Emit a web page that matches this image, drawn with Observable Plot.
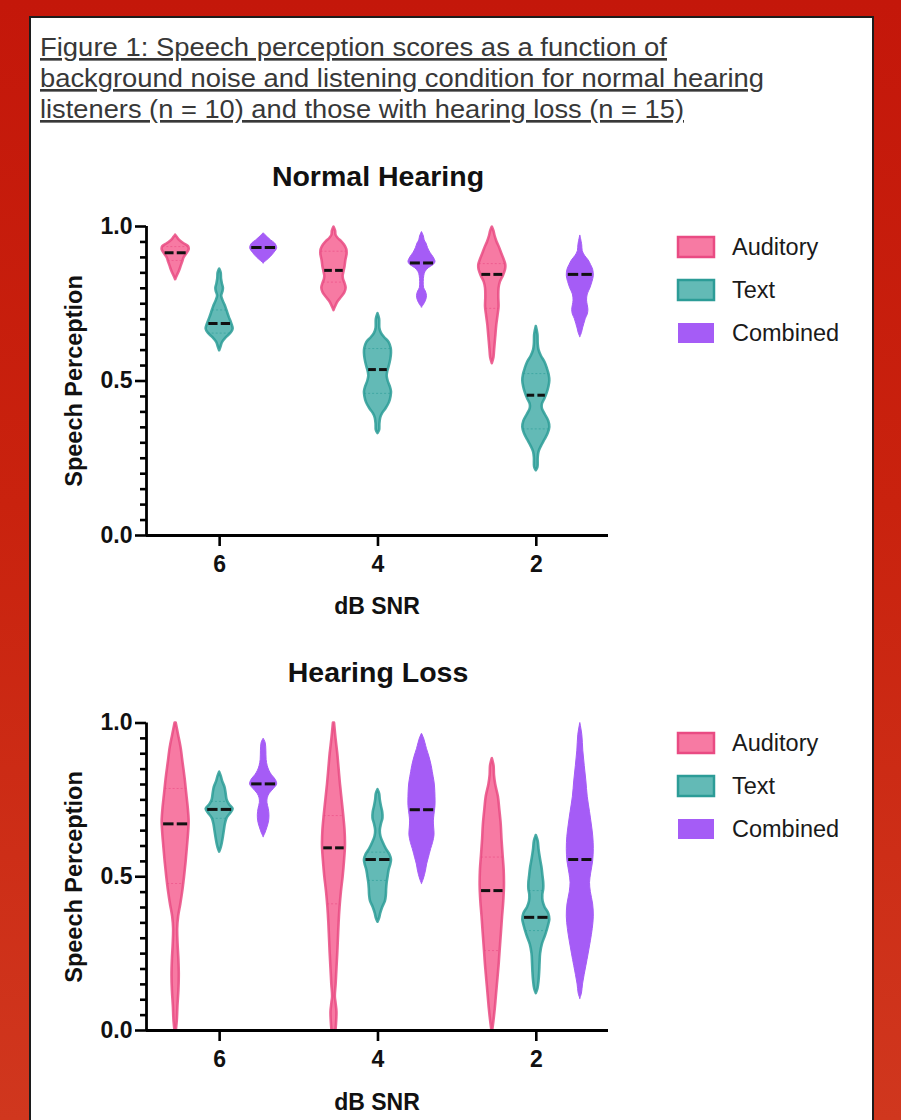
<!DOCTYPE html>
<html>
<head>
<meta charset="utf-8">
<script src="https://cdn.jsdelivr.net/npm/d3@7"></script>
<script src="https://cdn.jsdelivr.net/npm/@observablehq/plot@0.6"></script>
<style>
  html, body { margin: 0; padding: 0; }
  body {
    width: 901px; height: 1120px; overflow: hidden; position: relative;
    background: linear-gradient(180deg, #c4170a 0%, #c9220e 45%, #d0371e 100%);
    font-family: "Liberation Sans", Arial, sans-serif;
  }
  #panel {
    position: absolute; left: 29px; top: 16px; width: 845px; height: 1120px;
    background: #fff; border: 2px solid #1c1c1c; border-bottom: none; box-sizing: border-box;
  }
  .plot { position: absolute; left: 31px; }
  .plot svg text { font-size: 23px !important; font-weight: bold !important; font-family: "Liberation Sans", Arial, sans-serif !important; fill: #111; }
  #overlay { position: absolute; left: 0; top: 0; pointer-events: none; }
</style>
</head>
<body>
<div id="panel"></div>
<div id="top" class="plot" style="top:140px"></div>
<div id="bottom" class="plot" style="top:640px"></div>
<svg id="overlay" width="901" height="1120"></svg>
<script>
// ---------------- DATA ----------------
const titleLines = [
  "Figure 1: Speech perception scores as a function of",
  "background noise and listening condition for normal hearing",
  "listeners (n = 10) and those with hearing loss (n = 15)"
];
const panelTitles = ["Normal Hearing", "Hearing Loss"];
const yLabel = "Speech Perception";
const xLabel = "dB SNR";
const snr = ["6", "4", "2"];
const conditions = ["Auditory", "Text", "Combined"];
const yTicks = [0, 0.5, 1];

// violin profiles: [score, relative density]
// Normal hearing
const nhA6 = [[0.828,0],[0.84,0.12],[0.855,0.28],[0.87,0.4],[0.885,0.52],[0.898,0.62],[0.91,0.8],[0.925,1.0],[0.935,0.95],[0.945,0.6],[0.955,0.3],[0.965,0.12],[0.972,0]];
const nhT6 = [[0.598,0],[0.61,0.1],[0.625,0.22],[0.64,0.5],[0.655,0.85],[0.668,1.0],[0.685,0.9],[0.705,0.72],[0.72,0.6],[0.74,0.45],[0.76,0.25],[0.775,0.15],[0.79,0.25],[0.80,0.28],[0.815,0.2],[0.83,0.14],[0.85,0.11],[0.862,0]];
const nhC6 = [[0.881,0],[0.89,0.25],[0.90,0.5],[0.915,0.8],[0.93,1.0],[0.945,0.85],[0.955,0.55],[0.965,0.3],[0.978,0]];
const nhA4 = [[0.728,0],[0.74,0.12],[0.755,0.28],[0.77,0.55],[0.785,0.8],[0.80,0.9],[0.815,0.82],[0.83,0.7],[0.84,0.68],[0.855,0.75],[0.87,0.82],[0.89,0.88],[0.91,0.97],[0.925,0.95],[0.94,0.78],[0.952,0.55],[0.962,0.3],[0.972,0.15],[0.985,0.12],[0.998,0]];
const nhT4 = [[0.33,0],[0.34,0.12],[0.36,0.14],[0.38,0.2],[0.395,0.35],[0.41,0.6],[0.43,0.85],[0.45,0.97],[0.465,1.0],[0.48,0.92],[0.50,0.75],[0.515,0.68],[0.53,0.72],[0.55,0.85],[0.57,0.95],[0.59,1.0],[0.605,0.98],[0.625,0.82],[0.64,0.5],[0.655,0.25],[0.67,0.14],[0.70,0.12],[0.718,0]];
const nhC4 = [[0.738,0],[0.745,0.12],[0.76,0.3],[0.775,0.37],[0.79,0.28],[0.80,0.16],[0.82,0.13],[0.84,0.17],[0.852,0.25],[0.865,0.5],[0.875,0.85],[0.885,1.0],[0.90,0.86],[0.915,0.62],[0.93,0.45],[0.945,0.33],[0.955,0.2],[0.968,0.14],[0.982,0]];
const nhA2 = [[0.556,0],[0.575,0.12],[0.6,0.17],[0.64,0.25],[0.68,0.33],[0.71,0.42],[0.74,0.5],[0.77,0.48],[0.80,0.5],[0.82,0.6],[0.84,0.82],[0.86,0.98],[0.875,1.0],[0.89,0.9],[0.91,0.72],[0.93,0.55],[0.95,0.35],[0.97,0.2],[0.985,0.12],[0.998,0]];
const nhT2 = [[0.21,0],[0.22,0.12],[0.25,0.14],[0.27,0.2],[0.29,0.4],[0.31,0.65],[0.33,0.88],[0.35,1.0],[0.37,0.92],[0.39,0.68],[0.41,0.45],[0.425,0.45],[0.44,0.62],[0.46,0.8],[0.48,0.93],[0.50,1.0],[0.52,0.95],[0.54,0.82],[0.56,0.65],[0.58,0.38],[0.60,0.2],[0.62,0.14],[0.65,0.12],[0.676,0]];
const nhC2 = [[0.642,0],[0.655,0.12],[0.67,0.2],[0.685,0.3],[0.70,0.4],[0.715,0.55],[0.73,0.6],[0.745,0.55],[0.76,0.5],[0.78,0.55],[0.80,0.75],[0.82,0.9],[0.84,1.0],[0.86,0.95],[0.875,0.8],[0.89,0.62],[0.905,0.35],[0.92,0.18],[0.94,0.14],[0.971,0]];
// Hearing loss
const hlA6 = [[0,0.05],[0.03,0.12],[0.08,0.17],[0.13,0.24],[0.18,0.27],[0.23,0.24],[0.28,0.18],[0.33,0.15],[0.37,0.22],[0.41,0.38],[0.45,0.52],[0.50,0.66],[0.55,0.78],[0.60,0.88],[0.65,0.97],[0.68,1.0],[0.72,0.94],[0.77,0.82],[0.82,0.7],[0.87,0.55],[0.92,0.4],[0.96,0.22],[1.0,0.04]];
const hlT6 = [[0.58,0],[0.595,0.12],[0.61,0.2],[0.63,0.28],[0.65,0.35],[0.67,0.42],[0.69,0.55],[0.705,0.8],[0.72,1.0],[0.735,0.72],[0.75,0.55],[0.77,0.48],[0.79,0.4],[0.81,0.22],[0.825,0.13],[0.84,0]];
const hlC6 = [[0.629,0],[0.64,0.12],[0.66,0.28],[0.68,0.4],[0.70,0.43],[0.72,0.38],[0.74,0.28],[0.755,0.3],[0.77,0.45],[0.785,0.75],[0.80,1.0],[0.815,0.9],[0.83,0.62],[0.845,0.42],[0.86,0.3],[0.88,0.22],[0.91,0.2],[0.935,0.15],[0.949,0]];
const hlA4 = [[0,0.15],[0.03,0.2],[0.06,0.22],[0.09,0.15],[0.11,0.1],[0.15,0.16],[0.2,0.22],[0.25,0.28],[0.3,0.33],[0.35,0.38],[0.4,0.45],[0.45,0.55],[0.5,0.68],[0.55,0.78],[0.6,0.85],[0.65,0.82],[0.7,0.72],[0.75,0.6],[0.8,0.48],[0.85,0.38],[0.9,0.28],[0.95,0.15],[1.0,0.04]];
const hlT4 = [[0.352,0],[0.365,0.12],[0.38,0.2],[0.40,0.35],[0.42,0.55],[0.44,0.62],[0.46,0.64],[0.48,0.68],[0.50,0.75],[0.52,0.82],[0.54,0.95],[0.555,1.0],[0.57,0.9],[0.59,0.62],[0.61,0.4],[0.63,0.22],[0.65,0.17],[0.67,0.25],[0.69,0.37],[0.71,0.35],[0.73,0.25],[0.75,0.17],[0.77,0.12],[0.783,0]];
const hlC4 = [[0.477,0],[0.49,0.12],[0.505,0.22],[0.52,0.3],[0.54,0.38],[0.56,0.5],[0.59,0.68],[0.61,0.82],[0.635,0.93],[0.66,0.9],[0.68,0.88],[0.70,0.92],[0.73,1.0],[0.76,1.0],[0.79,0.97],[0.81,0.92],[0.84,0.8],[0.86,0.72],[0.89,0.55],[0.915,0.37],[0.935,0.25],[0.95,0.15],[0.965,0]];
const hlA2 = [[0,0.03],[0.03,0.12],[0.07,0.22],[0.11,0.3],[0.16,0.4],[0.21,0.5],[0.26,0.58],[0.32,0.68],[0.37,0.76],[0.42,0.85],[0.47,0.9],[0.52,0.88],[0.57,0.8],[0.62,0.72],[0.67,0.66],[0.72,0.55],[0.76,0.45],[0.80,0.25],[0.83,0.16],[0.86,0.13],[0.884,0]];
const hlT2 = [[0.12,0],[0.135,0.12],[0.16,0.2],[0.19,0.25],[0.22,0.28],[0.25,0.32],[0.28,0.45],[0.31,0.7],[0.34,0.9],[0.36,1.0],[0.38,0.92],[0.40,0.65],[0.42,0.5],[0.44,0.48],[0.46,0.55],[0.48,0.55],[0.50,0.5],[0.53,0.42],[0.56,0.3],[0.59,0.2],[0.615,0.14],[0.634,0]];
const hlC2 = [[0.103,0],[0.12,0.12],[0.15,0.2],[0.18,0.32],[0.21,0.45],[0.25,0.62],[0.29,0.78],[0.33,0.92],[0.37,1.0],[0.41,0.95],[0.45,0.78],[0.48,0.72],[0.51,0.8],[0.55,0.95],[0.59,1.0],[0.63,0.96],[0.67,0.85],[0.71,0.72],[0.76,0.55],[0.81,0.45],[0.86,0.33],[0.91,0.22],[0.96,0.15],[1.0,0]];

const nhProfiles = [[nhA6, nhT6, nhC6], [nhA4, nhT4, nhC4], [nhA2, nhT2, nhC2]];
const hlProfiles = [[hlA6, hlT6, hlC6], [hlA4, hlT4, hlC4], [hlA2, hlT2, hlC2]];
const nhMedian = [[0.915, 0.686, 0.932], [0.858, 0.537, 0.882], [0.845, 0.454, 0.845]];
const nhQ1 = [[0.89, 0.655, null], [0.82, 0.46, null], [0.735, 0.345, null]];
const nhQ3 = [[0.935, 0.73, null], [0.92, 0.605, null], [0.88, 0.524, null]];
const hlMedian = [[0.672, 0.719, 0.802], [0.594, 0.556, 0.718], [0.455, 0.368, 0.556]];
const hlQ1 = [[0.478, 0.69, null], [0.412, 0.488, null], [0.26, 0.325, null]];
const hlQ3 = [[0.787, 0.745, null], [0.699, 0.58, null], [0.564, 0.455, null]];

// ---------------- STYLE / LAYOUT ----------------
const fills = ["#f77aa3", "#63bab6", "#a55cf6"];
const strokes = ["#e94b83", "#2c9c97", "#a55cf6"];
const xDomain = [-0.462, 2.456];
const PLOT_W = 840, ML = 115, MR = 263;
const HALF_PX = 13.5, SLOT_PX = 44;

function interp(prof, v) {
  for (let i = 1; i < prof.length; i++) {
    const [v0, r0] = prof[i - 1], [v1, r1] = prof[i];
    if (v >= v0 && v <= v1) return r0 + (r1 - r0) * (v - v0) / (v1 - v0 || 1);
  }
  return 0;
}

function makePanel(profiles, med, q1, q3, height, mt, mb) {
  const pxPerUnit = (PLOT_W - ML - MR) / (xDomain[1] - xDomain[0]);
  const W = HALF_PX / pxPerUnit, OFF = SLOT_PX / pxPerUnit, GAP = 1.6 / pxPerUnit;
  const rows = [], meds = [], qs = [];
  profiles.forEach((grp, g) => grp.forEach((prof, s) => {
    const c = g + (s - 1) * OFF;
    prof.forEach(([v, r]) => rows.push({ s, id: g + "-" + s, v, x1: c - r * W, x2: c + r * W }));
    const m = med[g][s];
    const hm = interp(prof, m) * W * 0.9;
    meds.push({ v: m, x1: c - hm, x2: c - GAP }, { v: m, x1: c + GAP, x2: c + hm });
    [q1[g][s], q3[g][s]].forEach(q => {
      if (q != null) { const h = interp(prof, q) * W; qs.push({ s, v: q, x1: c - h, x2: c + h }); }
    });
  }));
  const marks = [];
  conditions.forEach((cond, s) => {
    marks.push(Plot.areaX(rows.filter(d => d.s === s), {
      y: "v", x1: "x1", x2: "x2", z: "id", fill: fills[s], stroke: strokes[s],
      strokeWidth: s === 2 ? 1 : 2.6, strokeOpacity: s === 2 ? 1 : 0.85, curve: "catmull-rom"
    }));
  });
  conditions.forEach((cond, s) => {
    marks.push(Plot.ruleY(qs.filter(d => d.s === s), {
      y: "v", x1: "x1", x2: "x2", stroke: strokes[s], strokeWidth: 1, strokeDasharray: "2,2", strokeOpacity: 0.6
    }));
  });
  marks.push(Plot.ruleY(meds, { y: "v", x1: "x1", x2: "x2", stroke: "#111", strokeWidth: 3 }));
  const minor = d3.range(0, 21).filter(i => i % 10 !== 0).map(i => i / 20);
  marks.push(
    Plot.axisY(minor, { tickSize: 6, text: null, strokeWidth: 2.6, label: null }),
    Plot.axisY(yTicks, { tickSize: 11, tickPadding: 3, tickFormat: d => d.toFixed(1), strokeWidth: 2.6, label: null }),
    Plot.axisX([0, 1, 2], { tickSize: 11, tickPadding: 9, tickFormat: i => snr[i], strokeWidth: 2.6, label: null }),
    Plot.ruleX([xDomain[0]], { strokeWidth: 2.8 }),
    Plot.ruleY([0], { strokeWidth: 2.8 })
  );
  return Plot.plot({
    width: PLOT_W, height, marginLeft: ML, marginRight: MR, marginTop: mt, marginBottom: mb,
    x: { domain: xDomain, axis: null },
    y: { domain: [0, 1], axis: null },
    style: { background: "transparent", color: "#000" },
    marks
  });
}

document.getElementById("top").appendChild(makePanel(nhProfiles, nhMedian, nhQ1, nhQ3, 500, 86, 105));
document.getElementById("bottom").appendChild(makePanel(hlProfiles, hlMedian, hlQ1, hlQ3, 480, 82.5, 90));

// ---------------- TEXT OVERLAY ----------------
const svg = d3.select("#overlay");
const font = "Liberation Sans, Arial, sans-serif";
const titleWidths = [627, 724, 644];
titleLines.forEach((t, i) => {
  svg.append("text").attr("x", 40).attr("y", 56 + i * 31)
    .attr("font-family", font).attr("font-size", 26.5).attr("fill", "#383838")
    .attr("text-decoration", "underline")
    .attr("textLength", titleWidths[i]).attr("lengthAdjust", "spacingAndGlyphs")
    .text(t);
});
const panelTop = [0, 496];
panelTop.forEach((dy, p) => {
  svg.append("text").attr("x", 378).attr("y", 186 + dy).attr("text-anchor", "middle")
    .attr("font-family", font).attr("font-weight", "bold").attr("font-size", 28.5).attr("fill", "#111")
    .text(panelTitles[p]);
  svg.append("text").attr("transform", `translate(82,${381 + dy}) rotate(-90)`).attr("text-anchor", "middle")
    .attr("font-family", font).attr("font-weight", "bold").attr("font-size", 23.5).attr("fill", "#111")
    .text(yLabel);
  svg.append("text").attr("x", 377).attr("y", 614 + dy).attr("text-anchor", "middle")
    .attr("font-family", font).attr("font-weight", "bold").attr("font-size", 23).attr("fill", "#111")
    .text(xLabel);
  conditions.forEach((c, s) => {
    const cy = 247 + dy + s * 43;
    svg.append("rect").attr("x", 678).attr("y", cy - 10).attr("width", 36).attr("height", 20)
      .attr("fill", fills[s]).attr("stroke", s === 2 ? "none" : strokes[s]).attr("stroke-width", 2.5);
    svg.append("text").attr("x", 732).attr("y", cy + 8).attr("font-family", font)
      .attr("font-size", 23.5).attr("fill", "#1a1a1a").text(c);
  });
});
</script>
</body>
</html>
